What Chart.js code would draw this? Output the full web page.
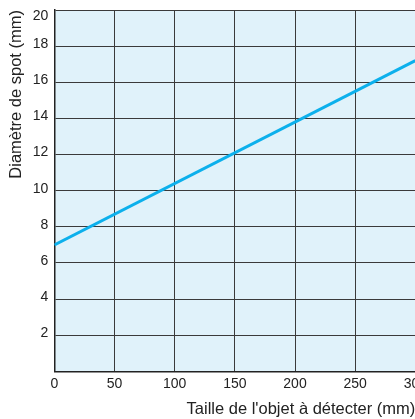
<!DOCTYPE html>
<html>
<head>
<meta charset="utf-8">
<script src="https://cdn.jsdelivr.net/npm/chart.js@4/dist/chart.umd.min.js"></script>
<style>
  html, body { margin: 0; padding: 0; background: #fff; overflow: hidden; }
  #wrap { position: absolute; left: 0; top: 0; width: 431px; height: 419px; }
</style>
</head>
<body>
<div id="wrap"><canvas id="myChart"></canvas></div>
<script>
// object size (mm) -> spot diameter (mm)
const objectSize = [0, 300];
const spotDiameter = [7, 17.2];
const xTicks = [0, 50, 100, 150, 200, 250, 300];
const yTicks = [0, 2, 4, 6, 8, 10, 12, 14, 16, 18, 20];

const plotBg = {
  id: "plotBg",
  beforeDraw(chart) {
    const { ctx, chartArea } = chart;
    ctx.save();
    ctx.fillStyle = "#e0f2fa";
    ctx.fillRect(chartArea.left, chartArea.top, chartArea.width, chartArea.height);
    ctx.restore();
  },
};

const tickFont = { family: "'Liberation Sans', Arial, sans-serif", size: 14 };
const titleFont = { family: "'Liberation Sans', Arial, sans-serif", size: 16.5 };

new Chart("myChart", {
  type: "line",
  data: {
    datasets: [
      {
        data: objectSize.map((x, i) => ({ x: x, y: spotDiameter[i] })),
        borderColor: "#0cb0ec",
        borderWidth: 3,
        pointRadius: 0,
        fill: false,
      },
    ],
  },
  options: {
    responsive: true,
    maintainAspectRatio: false,
    animation: false,
    layout: { padding: { top: 10, left: 7, right: 0, bottom: 0 } },
    plugins: { legend: { display: false }, tooltip: { enabled: false } },
    scales: {
      x: {
        type: "linear",
        min: 0,
        max: 300,
        afterBuildTicks: (s) => { s.ticks = xTicks.map((v) => ({ value: v })); },
        grid: { color: "#3a3a3a", lineWidth: 1, drawTicks: false },
        border: { color: "#222", width: 1.5 },
        ticks: { color: "#222", font: tickFont, padding: 4, maxRotation: 0, autoSkip: false },
        title: {
          display: true,
          text: "Taille de l'objet à détecter (mm)",
          align: "end",
          color: "#222",
          font: titleFont,
          padding: { top: 3, bottom: 0 },
        },
      },
      y: {
        min: 0,
        max: 20,
        afterBuildTicks: (s) => { s.ticks = yTicks.map((v) => ({ value: v })); },
        afterFit: (s) => { s.paddingTop = 0; },
        grid: { color: "#3a3a3a", lineWidth: 1, drawTicks: false },
        border: { color: "#222", width: 1.5 },
        ticks: {
          color: "#222",
          font: tickFont,
          padding: 6,
          labelOffset: -2,
          autoSkip: false,
          // top label sits just under the frame, as in the print
          callback: (v) => (v === 0 ? "" : v === 20 ? ["", "20"] : v),
        },
        title: {
          display: true,
          text: "Diamètre de spot (mm)",
          align: "end",
          color: "#222",
          font: titleFont,
          padding: { top: 0, bottom: 0 },
        },
      },
    },
  },
  plugins: [plotBg],
});
</script>
</body>
</html>
